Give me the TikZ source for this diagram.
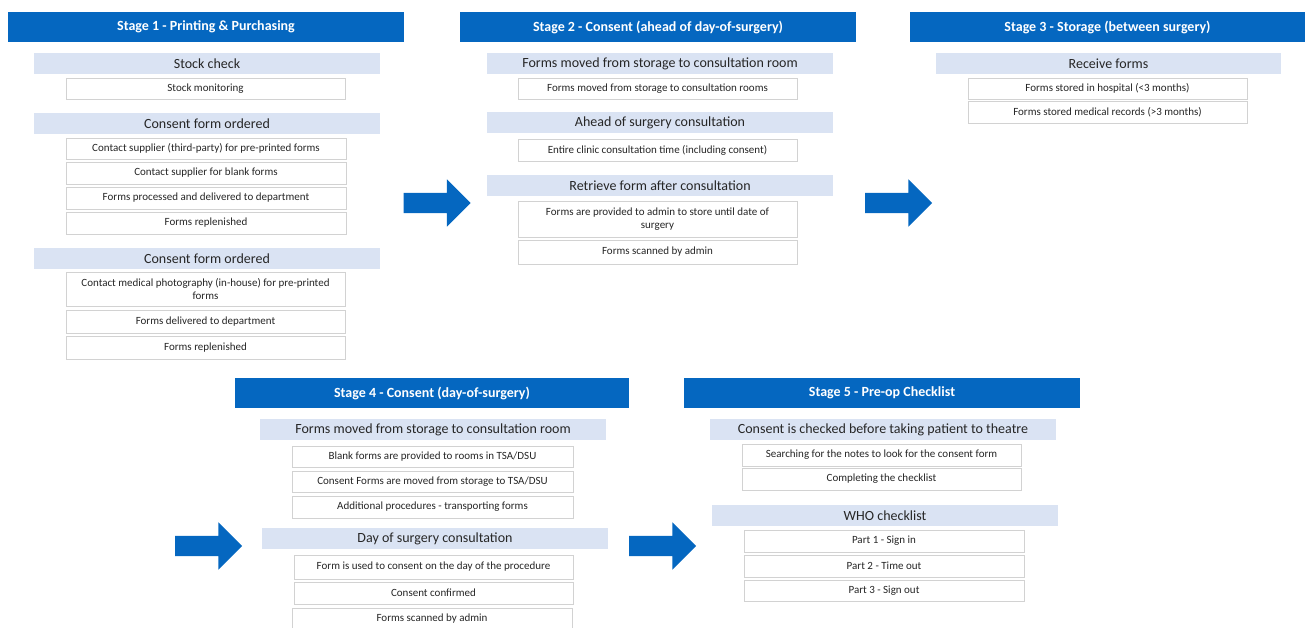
\documentclass[tikz,border=0pt]{standalone}
\usepackage{fontspec}
\setmainfont{Carlito}
\usetikzlibrary{shapes.arrows}
\definecolor{hdrblue}{RGB}{5,103,192}
\definecolor{bandfill}{RGB}{218,227,243}
\definecolor{boxline}{RGB}{210,210,210}
\definecolor{txt}{RGB}{38,38,38}
\newcommand\bx[7]{\node[#1, minimum width={#5-#3}, minimum height={#6-#4}] (#2) at ({(#3+#5)/2},{(#4+#6)/2}) {#7};}
\begin{document}
\begin{tikzpicture}[x=1pt,y=-1pt,
  hdr/.style={rectangle, fill=hdrblue, inner sep=0pt, text=white, font=\fontsize{14}{16}\selectfont\bfseries},
  band/.style={rectangle, fill=bandfill, inner sep=0pt, text=txt, font=\fontsize{14}{16}\selectfont},
  item/.style={rectangle, draw=boxline, line width=0.8pt, fill=white, inner sep=0pt, text=txt, align=center, font=\fontsize{11}{12.5}\selectfont},
  barrow/.style={single arrow, fill=hdrblue, draw=none, inner xsep=0pt, inner ysep=10pt, single arrow head extend=13.5pt, minimum height=67pt, shape border rotate=0}]
\useasboundingbox (0,0) rectangle (1305,628);
% Stage 1
\bx{hdr}{h1}{8}{12}{404}{42}{Stage 1 - Printing \& Purchasing}
\bx{band}{s1b1}{34}{53}{380}{74}{Stock check}
\bx{item}{s1i1}{66}{78}{345}{99}{Stock monitoring}
\bx{band}{s1b2}{34}{113}{380}{134}{Consent form ordered}
\bx{item}{s1i2}{66}{138}{346}{159}{Contact supplier (third-party) for pre-printed forms}
\bx{item}{s1i3}{66}{162}{346}{184}{Contact supplier for blank forms}
\bx{item}{s1i4}{66}{187}{346}{209}{Forms processed and delivered to department}
\bx{item}{s1i5}{66}{212}{346}{234}{Forms replenished}
\bx{band}{s1b3}{34}{248}{380}{269}{Consent form ordered}
\bx{item}{s1i6}{66}{272}{345}{306}{Contact medical photography (in-house) for pre-printed\\forms}
\bx{item}{s1i7}{66}{310}{345}{333}{Forms delivered to department}
\bx{item}{s1i8}{66}{336}{345}{359}{Forms replenished}
% Stage 2
\bx{hdr}{h2}{460}{12}{856}{42}{Stage 2 - Consent (ahead of day-of-surgery)}
\bx{band}{s2b1}{487}{53}{833}{74}{Forms moved from storage to consultation room}
\bx{item}{s2i1}{518}{78}{797}{99}{Forms moved from storage to consultation rooms}
\bx{band}{s2b2}{487}{112}{833}{133}{Ahead of surgery consultation}
\bx{item}{s2i2}{518}{139}{797}{161}{Entire clinic consultation time (including consent)}
\bx{band}{s2b3}{487}{175}{833}{196}{Retrieve form after consultation}
\bx{item}{s2i3}{518}{201}{797}{237}{Forms are provided to admin to store until date of\\surgery}
\bx{item}{s2i4}{518}{240}{797}{264}{Forms scanned by admin}
% Stage 3
\bx{hdr}{h3}{910}{12}{1305}{42}{Stage 3 - Storage (between surgery)}
\bx{band}{s3b1}{936}{53}{1281}{74}{Receive forms}
\bx{item}{s3i1}{968}{78}{1247}{99}{Forms stored in hospital (<3 months)}
\bx{item}{s3i2}{968}{101}{1247}{123}{Forms stored medical records (>3 months)}
% Stage 4
\bx{hdr}{h4}{235}{378}{629}{408}{Stage 4 - Consent (day-of-surgery)}
\bx{band}{s4b1}{260}{419}{606}{440}{Forms moved from storage to consultation room}
\bx{item}{s4i1}{292}{446}{573}{467}{Blank forms are provided to rooms in TSA/DSU}
\bx{item}{s4i2}{292}{471}{573}{492}{Consent Forms are moved from storage to TSA/DSU}
\bx{item}{s4i3}{292}{496}{573}{518}{Additional procedures - transporting forms}
\bx{band}{s4b2}{262}{528}{608}{549}{Day of surgery consultation}
\bx{item}{s4i4}{294}{555}{573}{579}{Form is used to consent on the day of the procedure}
\bx{item}{s4i5}{294}{582}{573}{604}{Consent confirmed}
\bx{item}{s4i6}{292}{608}{572}{630}{Forms scanned by admin}
% Stage 5
\bx{hdr}{h5}{684}{378}{1080}{408}{Stage 5 - Pre-op Checklist}
\bx{band}{s5b1}{710}{419}{1056}{440}{Consent is checked before taking patient to theatre}
\bx{item}{s5i1}{742}{444}{1021}{466}{Searching for the notes to look for the consent form}
\bx{item}{s5i2}{742}{468}{1021}{490}{Completing the checklist}
\bx{band}{s5b2}{712}{505}{1058}{526}{WHO checklist}
\bx{item}{s5i3}{744}{530}{1024}{552}{Part 1 - Sign in}
\bx{item}{s5i4}{744}{555}{1024}{577}{Part 2 - Time out}
\bx{item}{s5i5}{744}{580}{1024}{601}{Part 3 - Sign out}
% Arrows
\node[barrow] (a1) at (432,203) {};
\node[barrow] (a2) at (893.5,203) {};
\node[barrow] (a3) at (203.5,546) {};
\node[barrow] (a4) at (657.5,546) {};
\end{tikzpicture}
\end{document}
